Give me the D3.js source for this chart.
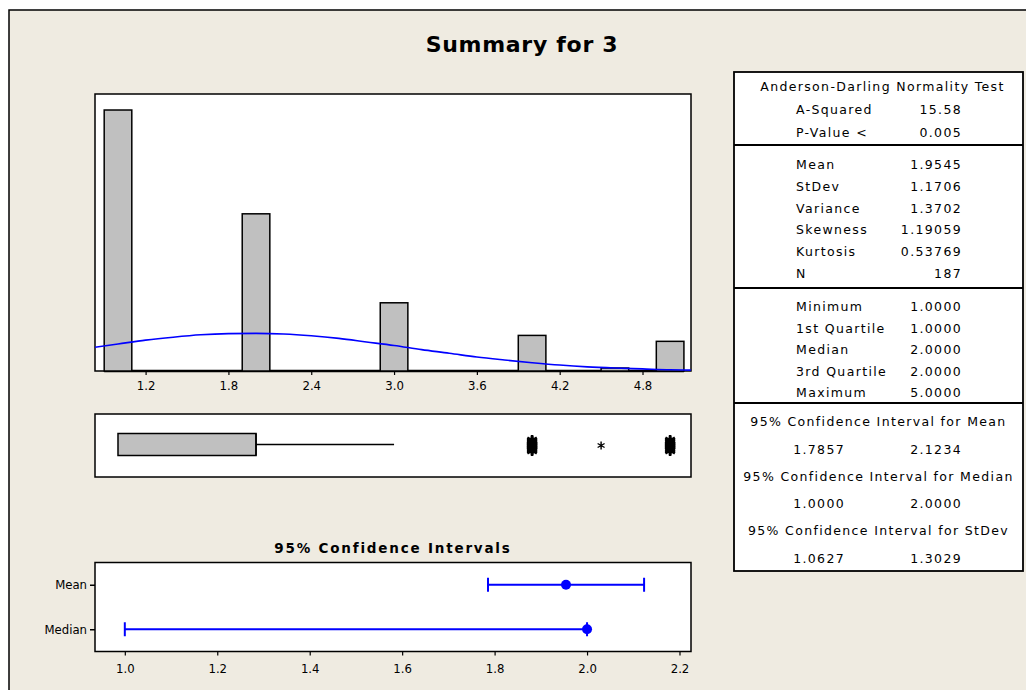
<!DOCTYPE html>
<html>
<head>
<meta charset="utf-8">
<script src="https://cdn.jsdelivr.net/npm/d3@7/dist/d3.min.js"></script>
<style>
  html, body { margin: 0; padding: 0; background: #ffffff; }
  svg { display: block; }
</style>
</head>
<body>
<svg id="chart" width="1026" height="690"></svg>
<script>
// ---------------- DATA ----------------
const chartTitle = "Summary for 3";

// histogram (bin centres, width 0.2) and counts
const binCenters = [1.0, 1.2, 1.4, 1.6, 1.8, 2.0, 2.2, 2.4, 2.6, 2.8, 3.0, 3.2, 3.4, 3.6, 3.8, 4.0, 4.2, 4.4, 4.6, 4.8, 5.0];
const binCounts  = [88, 0, 0, 0, 0, 53, 0, 0, 0, 0, 23, 0, 0, 0, 0, 12, 0, 0, 1, 0, 10];
const binWidth = 0.2;
const histTicks = [1.2, 1.8, 2.4, 3.0, 3.6, 4.2, 4.8];

// fitted normal curve (in counts)
const curveX = [0.83, 1.0, 1.2, 1.4, 1.6, 1.8, 2.0, 2.2, 2.4, 2.6, 2.8, 3.0, 3.2, 3.4, 3.6, 3.8, 4.0, 4.2, 4.4, 4.6, 4.8, 5.0, 5.15];
const curveY = [8.0, 9.1, 10.4, 11.4, 12.2, 12.6, 12.7, 12.5, 11.9, 11.0, 9.8, 8.6, 7.2, 6.0, 4.7, 3.7, 2.8, 2.0, 1.4, 1.0, 0.7, 0.4, 0.3];

// boxplot
const boxStats = { q1: 1.0, median: 2.0, q3: 2.0, whiskerLow: 1.0, whiskerHigh: 3.0 };
const outlierValues = [4.0, 4.5, 5.0];
const outlierCounts = [12, 1, 10];

// confidence intervals
const ciNames  = ["Mean", "Median"];
const ciLow    = [1.7857, 1.0];
const ciHigh   = [2.1234, 2.0];
const ciPoint  = [1.9545, 2.0];
const ciTicks  = [1.0, 1.2, 1.4, 1.6, 1.8, 2.0, 2.2];

// statistics table
const adTitle = "Anderson-Darling Normality Test";
const adLabels = ["A-Squared", "P-Value <"];
const adValues = ["15.58", "0.005"];
const descLabels = ["Mean", "StDev", "Variance", "Skewness", "Kurtosis", "N"];
const descValues = ["1.9545", "1.1706", "1.3702", "1.19059", "0.53769", "187"];
const quantLabels = ["Minimum", "1st Quartile", "Median", "3rd Quartile", "Maximum"];
const quantValues = ["1.0000", "1.0000", "2.0000", "2.0000", "5.0000"];
const ciHeaders = ["95% Confidence Interval for Mean", "95% Confidence Interval for Median", "95% Confidence Interval for StDev"];
const ciTableLow = ["1.7857", "1.0000", "1.0627"];
const ciTableHigh = ["2.1234", "2.0000", "1.3029"];

// ---------------- DRAW ----------------
const svg = d3.select("#chart");
const BG = "#EFEBE1";
const tableFont = "'DejaVu Sans', Verdana, sans-serif";
const narrowFont = "'Liberation Sans Narrow', 'DejaVu Sans Condensed', 'Roboto Condensed', 'Liberation Sans', Arial, sans-serif";
const titleFont = "'DejaVu Sans', Verdana, sans-serif";

// outer frame
svg.append("rect").attr("x", 9).attr("y", 10).attr("width", 1100).attr("height", 800)
  .attr("fill", BG).attr("stroke", "#000").attr("stroke-width", 1.5);

// title
svg.append("text").attr("x", 522).attr("y", 44).attr("dy", "0.35em")
  .attr("text-anchor", "middle").attr("font-family", titleFont)
  .attr("font-weight", "bold").attr("font-size", 22).attr("letter-spacing", 0.7).attr("fill", "#000")
  .text(chartTitle);

// ---------- histogram ----------
const hp = { left: 95, right: 691, top: 94, bottom: 371 };
const x = d3.scaleLinear().domain([0.8334, 5.1513]).range([hp.left, hp.right]);
const y = d3.scaleLinear().domain([0, 93.4]).range([hp.bottom, hp.top]);

svg.append("rect").attr("x", hp.left).attr("y", hp.top)
  .attr("width", hp.right - hp.left).attr("height", hp.bottom - hp.top)
  .attr("fill", "#fff").attr("stroke", "#000").attr("stroke-width", 1.5);

svg.append("defs").append("clipPath").attr("id", "histClip")
  .append("rect").attr("x", hp.left).attr("y", hp.top)
  .attr("width", hp.right - hp.left).attr("height", hp.bottom - hp.top);

// baseline across all (zero) bins
svg.append("line")
  .attr("x1", x(binCenters[0] - binWidth / 2)).attr("x2", x(binCenters[binCenters.length - 1] + binWidth / 2))
  .attr("y1", y(0)).attr("y2", y(0)).attr("stroke", "#000").attr("stroke-width", 2.5);

const bins = binCenters.map((c, i) => ({ c, n: binCounts[i] })).filter(d => d.n > 0);
svg.append("g").selectAll("rect").data(bins).join("rect")
  .attr("x", d => x(d.c - binWidth / 2))
  .attr("width", d => x(d.c + binWidth / 2) - x(d.c - binWidth / 2))
  .attr("y", d => y(d.n))
  .attr("height", d => y(0) - y(d.n))
  .attr("fill", "#C0C0C0").attr("stroke", "#000").attr("stroke-width", 1.5);

const curveData = curveX.map((v, i) => [v, curveY[i]]);
svg.append("path").datum(curveData)
  .attr("clip-path", "url(#histClip)")
  .attr("d", d3.line().x(d => x(d[0])).y(d => y(d[1])).curve(d3.curveMonotoneX))
  .attr("fill", "none").attr("stroke", "#0000FF").attr("stroke-width", 1.6);

const hxAxis = svg.append("g").attr("transform", `translate(0,${hp.bottom})`)
  .call(d3.axisBottom(x).tickValues(histTicks).tickFormat(d3.format(".1f")).tickSize(4).tickSizeOuter(0));
hxAxis.select(".domain").remove();
hxAxis.selectAll("line").attr("stroke", "#000").attr("stroke-width", 1.2);
hxAxis.selectAll("text").attr("font-family", narrowFont).attr("font-size", 13)
  .attr("fill", "#000").attr("dy", "0.71em").attr("y", 10);

// ---------- boxplot ----------
const bp = { top: 414, bottom: 477 };
svg.append("rect").attr("x", hp.left).attr("y", bp.top)
  .attr("width", hp.right - hp.left).attr("height", bp.bottom - bp.top)
  .attr("fill", "#fff").attr("stroke", "#000").attr("stroke-width", 1.5);
const yb = d3.scaleBand().domain(["3"]).range([bp.top, bp.bottom]).paddingInner(0).paddingOuter(0.33);
const bc = yb("3") + yb.bandwidth() / 2 - 1;
svg.append("line").attr("x1", x(boxStats.q3)).attr("x2", x(boxStats.whiskerHigh))
  .attr("y1", bc).attr("y2", bc).attr("stroke", "#000").attr("stroke-width", 1.3);
svg.append("line").attr("x1", x(boxStats.whiskerLow)).attr("x2", x(boxStats.q1))
  .attr("y1", bc).attr("y2", bc).attr("stroke", "#000").attr("stroke-width", 1.3);
svg.append("rect").attr("x", x(boxStats.q1)).attr("y", bc - 11)
  .attr("width", x(boxStats.q3) - x(boxStats.q1)).attr("height", 22)
  .attr("fill", "#C0C0C0").attr("stroke", "#000").attr("stroke-width", 1.5);
svg.append("line").attr("x1", x(boxStats.median)).attr("x2", x(boxStats.median))
  .attr("y1", bc - 11).attr("y2", bc + 11).attr("stroke", "#000").attr("stroke-width", 1.5);

const outG = svg.append("g");
outlierValues.forEach((v, i) => {
  const n = outlierCounts[i];
  const star = d3.symbol().type(d3.symbolAsterisk).size(n > 1 ? 85 : 45);
  for (let k = 0; k < n; k++) {
    const off = n > 1 ? (k - (n - 1) / 2) * (10 / (n - 1)) : 0;
    outG.append("path").attr("d", star())
      .attr("transform", `translate(${x(v)},${bc + 1 + off})`)
      .attr("fill", "none").attr("stroke", "#000").attr("stroke-width", n > 1 ? 2.6 : 1.4);
  }
});

// ---------- confidence intervals ----------
const cp = { top: 562.5, bottom: 651.5 };
const xc = d3.scaleLinear().domain([0.9355, 2.2249]).range([hp.left, hp.right]);
const yc = d3.scalePoint().domain(ciNames).range([cp.top, cp.bottom]).padding(0.5);

svg.append("text").attr("x", (hp.left + hp.right) / 2).attr("y", 548).attr("dy", "0.35em")
  .attr("text-anchor", "middle").attr("font-family", titleFont).attr("font-weight", "bold")
  .attr("font-size", 13.5).attr("letter-spacing", 1.8).attr("fill", "#000")
  .text("95% Confidence Intervals");

svg.append("rect").attr("x", hp.left).attr("y", cp.top)
  .attr("width", hp.right - hp.left).attr("height", cp.bottom - cp.top)
  .attr("fill", "#fff").attr("stroke", "#000").attr("stroke-width", 1.5);

const cxAxis = svg.append("g").attr("transform", `translate(0,${cp.bottom})`)
  .call(d3.axisBottom(xc).tickValues(ciTicks).tickFormat(d3.format(".1f")).tickSize(4).tickSizeOuter(0));
cxAxis.select(".domain").remove();
cxAxis.selectAll("line").attr("stroke", "#000").attr("stroke-width", 1.2);
cxAxis.selectAll("text").attr("font-family", narrowFont).attr("font-size", 13)
  .attr("fill", "#000").attr("dy", "0.71em").attr("y", 12);

const cyAxis = svg.append("g").attr("transform", `translate(${hp.left},0)`)
  .call(d3.axisLeft(yc).tickSize(5).tickSizeOuter(0));
cyAxis.select(".domain").remove();
cyAxis.selectAll("line").attr("stroke", "#000").attr("stroke-width", 1.5);
cyAxis.selectAll("text").attr("font-family", narrowFont).attr("font-size", 13)
  .attr("fill", "#000").attr("x", -8);

const ciG = svg.append("g");
ciNames.forEach((nm, i) => {
  const yy = yc(nm);
  ciG.append("line").attr("x1", xc(ciLow[i])).attr("x2", xc(ciHigh[i]))
    .attr("y1", yy).attr("y2", yy).attr("stroke", "#0000FF").attr("stroke-width", 2);
  [ciLow[i], ciHigh[i]].forEach(v => {
    ciG.append("line").attr("x1", xc(v)).attr("x2", xc(v))
      .attr("y1", yy - 7).attr("y2", yy + 7).attr("stroke", "#0000FF").attr("stroke-width", 2);
  });
  ciG.append("circle").attr("cx", xc(ciPoint[i])).attr("cy", yy).attr("r", 5)
    .attr("fill", "#0000FF");
});

// ---------- statistics table ----------
const tb = { left: 734, right: 1023, top: 72, bottom: 571 };
const tMid = (tb.left + tb.right) / 2;
const labX = 796, valX = 962, lowX = 845;
svg.append("rect").attr("x", tb.left).attr("y", tb.top)
  .attr("width", tb.right - tb.left).attr("height", tb.bottom - tb.top)
  .attr("fill", "#fff").attr("stroke", "#000").attr("stroke-width", 1.8);
[145, 288, 403].forEach(sy => {
  svg.append("line").attr("x1", tb.left).attr("x2", tb.right).attr("y1", sy).attr("y2", sy)
    .attr("stroke", "#000").attr("stroke-width", 1.8);
});

function tText(xx, yy, s, anchor) {
  svg.append("text").attr("x", xx).attr("y", yy).attr("dy", "0.35em")
    .attr("text-anchor", anchor).attr("font-family", tableFont).attr("font-size", 12.5)
    .attr("letter-spacing", 1.35).attr("fill", "#000").text(s);
}
tText(tMid + 4, 87, adTitle, "middle");
const adY = [110, 132.5];
adLabels.forEach((l, i) => { tText(labX, adY[i], l, "start"); tText(valX, adY[i], adValues[i], "end"); });
descLabels.forEach((l, i) => { const yy = 165 + i * 21.7; tText(labX, yy, l, "start"); tText(valX, yy, descValues[i], "end"); });
quantLabels.forEach((l, i) => { const yy = 307 + i * 21.4; tText(labX, yy, l, "start"); tText(valX, yy, quantValues[i], "end"); });
ciHeaders.forEach((h, i) => {
  const yy = 422 + i * 54.5;
  tText(tMid, yy, h, "middle");
  tText(lowX, yy + 27.5, ciTableLow[i], "end");
  tText(valX, yy + 27.5, ciTableHigh[i], "end");
});
</script>
</body>
</html>
